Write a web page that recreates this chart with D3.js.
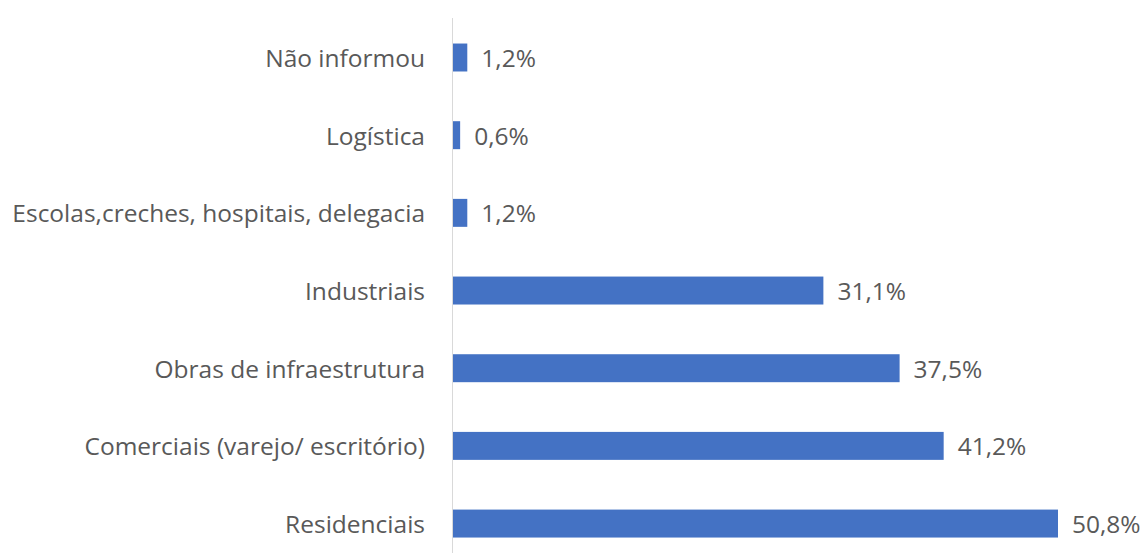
<!DOCTYPE html>
<html><head><meta charset="utf-8">
<script src="https://cdn.jsdelivr.net/npm/d3@7"></script>
<style>body{margin:0;background:#fff;} svg{display:block;}</style>
</head><body>
<svg id="chart" width="1144" height="553"></svg>
<script>
const categories = ["Não informou","Logística","Escolas,creches, hospitais, delegacia","Industriais","Obras de infraestrutura","Comerciais (varejo/ escritório)","Residenciais"];
const values = [1.2, 0.6, 1.2, 31.1, 37.5, 41.2, 50.8];
const valueLabels = ["1,2%","0,6%","1,2%","31,1%","37,5%","41,2%","50,8%"];

const svg = d3.select("#chart");
const font = "'Open Sans', sans-serif";
const x = d3.scaleLinear().domain([0, 50.8]).range([453, 1058]);
const y = d3.scaleBand().domain(categories).range([18.67, 562.4]).paddingInner(0.64).paddingOuter(0.32);

svg.append("g").selectAll("rect").data(values).join("rect")
  .attr("x", x(0)).attr("y", (d,i)=>y(categories[i]))
  .attr("width", d=>x(d)-x(0)).attr("height", y.bandwidth())
  .attr("fill", "#4472c4");

svg.append("line").attr("x1", 452.5).attr("x2", 452.5).attr("y1", 18).attr("y2", 553)
  .attr("stroke", "#d9d9d9").attr("stroke-width", 1);

svg.append("g").selectAll("text").data(categories).join("text")
  .attr("x", 425).attr("y", d=>y(d)+y.bandwidth()/2)
  .attr("text-anchor","end").attr("dominant-baseline","central")
  .attr("font-family", font).attr("font-size", 24.5).attr("fill", "#595959")
  .text(d=>d);

svg.append("g").selectAll("text").data(values).join("text")
  .attr("x", d=>x(d)+14).attr("y", (d,i)=>y(categories[i])+y.bandwidth()/2)
  .attr("dominant-baseline","central")
  .attr("font-family", font).attr("font-size", 24.5).attr("fill", "#595959")
  .text((d,i)=>valueLabels[i]);
</script>
</body></html>
